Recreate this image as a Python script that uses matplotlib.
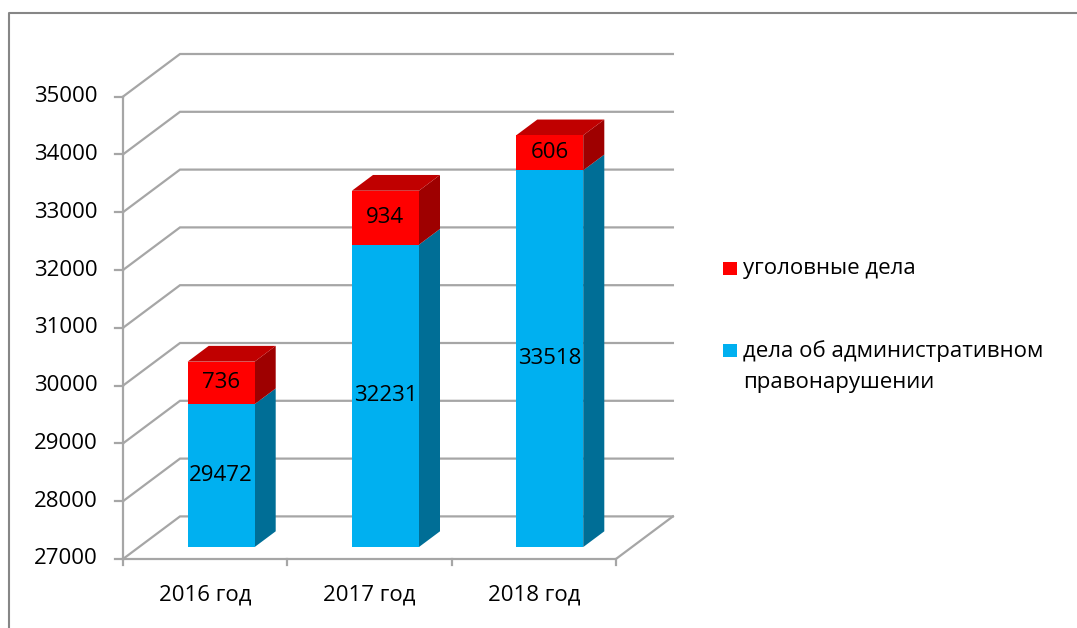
import matplotlib
matplotlib.use('Agg')
import matplotlib.pyplot as plt
from matplotlib.patches import Polygon, Rectangle
from matplotlib.lines import Line2D
import numpy as np

# Данные
categories = ['2016 год', '2017 год', '2018 год']
admin_cases = [29472, 32231, 33518]
criminal_cases = [736, 934, 606]
series_names = ['уголовные дела', 'дела об административном\nправонарушении']
y_ticks = list(range(27000, 35001, 1000))

# Геометрия «3D» (пиксели исходной картинки)
W, H = 1077, 628
X0_PX, CAT_PX = 123, 164.3      # левый край оси X и ширина категории
Y0_PX, PX_PER_UNIT = 559, 0.0578  # положение 27000 и масштаб
Y_MIN = 27000

DEPTH_X = 57 / CAT_PX            # сдвиг задней стенки по X (в категориях)
DEPTH_Y = 42.6 / PX_PER_UNIT     # сдвиг задней стенки по Y (в единицах)
BAR_D0 = 0.28                    # глубина передней грани столбца
BAR_D = 0.37                     # толщина столбца
BAR_W = 67 / CAT_PX

GRID = '#a6a6a6'
FONT = 'Open Sans'
FS = 16

plt.rcParams['font.family'] = [FONT, 'DejaVu Sans']

fig = plt.figure(figsize=(W / 100, H / 100), dpi=100)
fig.patch.set_facecolor('white')
ax = fig.add_axes([0, 0, 1, 1])
ax.axis('off')
ax.set_xlim(-X0_PX / CAT_PX, (W - X0_PX) / CAT_PX)
ax.set_ylim(Y_MIN - (H - Y0_PX) / PX_PER_UNIT, Y_MIN + Y0_PX / PX_PER_UNIT)

n = len(categories)

# Сетка: задняя стенка и боковая стенка
for v in y_ticks:
    ax.plot([0, DEPTH_X, n + DEPTH_X], [v, v + DEPTH_Y, v + DEPTH_Y],
            color=GRID, lw=1.6, solid_joinstyle='miter', zorder=1)

# Пол
ax.plot([0, n, n + DEPTH_X], [Y_MIN, Y_MIN, Y_MIN + DEPTH_Y],
        color=GRID, lw=1.6, zorder=1)

# Передняя ось Y с засечками
ax.plot([0, 0], [Y_MIN, y_ticks[-1]], color=GRID, lw=1.6, zorder=1)
tick_len_x = 8 / CAT_PX
for v in y_ticks:
    ax.plot([-tick_len_x, 0], [v, v], color=GRID, lw=1.6, zorder=1)
    ax.text(-25 / CAT_PX, v, str(v), ha='right', va='center', fontsize=FS)

# Засечки оси X
tick_len_y = 6 / PX_PER_UNIT
for i in range(n + 1):
    ax.plot([i, i], [Y_MIN, Y_MIN - tick_len_y], color=GRID, lw=1.6, zorder=1)
for i, c in enumerate(categories):
    ax.text(i + 0.5, Y_MIN - 36 / PX_PER_UNIT, c, ha='center', va='center', fontsize=FS)


def draw_segment(xc, v0, v1, front, side, top=None, z=3):
    dx0, dy0 = BAR_D0 * DEPTH_X, BAR_D0 * DEPTH_Y
    bdx, bdy = BAR_D * DEPTH_X, BAR_D * DEPTH_Y
    xl = xc - BAR_W / 2 + dx0
    xr = xc + BAR_W / 2 + dx0
    y0, y1 = v0 + dy0, v1 + dy0
    ax.add_patch(Polygon([(xr, y0), (xr + bdx, y0 + bdy), (xr + bdx, y1 + bdy), (xr, y1)],
                         closed=True, facecolor=side, edgecolor='none', zorder=z))
    if top is not None:
        ax.add_patch(Polygon([(xl, y1), (xr, y1), (xr + bdx, y1 + bdy), (xl + bdx, y1 + bdy)],
                             closed=True, facecolor=top, edgecolor='none', zorder=z))
    ax.add_patch(Rectangle((xl, y0), xr - xl, y1 - y0, facecolor=front,
                           edgecolor='none', zorder=z))
    return (xl + xr) / 2, (y0 + y1) / 2


for i in range(n):
    xc = i + 0.5
    a = admin_cases[i]
    c = criminal_cases[i]
    tx, ty = draw_segment(xc, Y_MIN, a, '#00b0f0', '#006e96', z=3)
    ax.text(tx, ty, str(a), ha='center', va='center', fontsize=FS, zorder=5)
    tx, ty = draw_segment(xc, a, a + c, '#ff0000', '#9e0000', '#c00000', z=4)
    ax.text(tx, ty, str(c), ha='center', va='center', fontsize=FS, zorder=5)

# Легенда
legend_colors = ['#ff0000', '#00b0f0']
legend_y = [268, 350]
for name, col, ly in zip(series_names, legend_colors, legend_y):
    fig.patches.append(Rectangle((723 / W, 1 - (ly + 7) / H), 14 / W, 13 / H,
                                 transform=fig.transFigure, facecolor=col,
                                 edgecolor='none'))
    fig.text(743 / W, 1 - (ly - 10) / H, name, ha='left', va='top',
             fontsize=FS, linespacing=1.65)

# Рамка области диаграммы
fig.lines.append(Line2D([9 / W, 9 / W, 1], [0, 1 - 13 / H, 1 - 13 / H],
                        transform=fig.transFigure, color='#868686', lw=1.5))

fig.savefig('out.png', dpi=100, facecolor='white')
plt.close(fig)
